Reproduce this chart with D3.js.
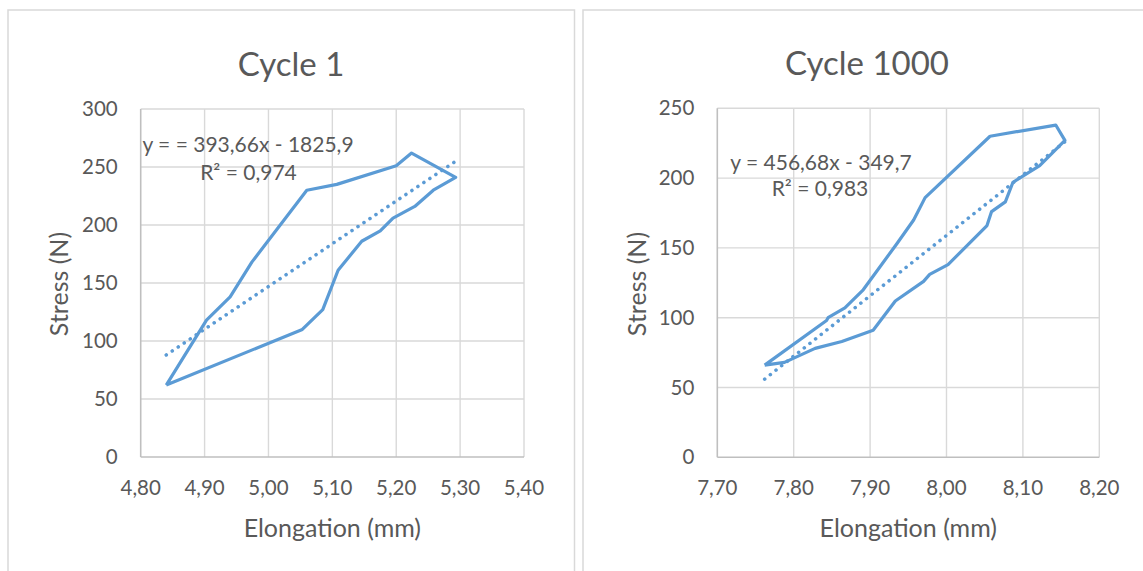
<!DOCTYPE html>
<html>
<head>
<meta charset="utf-8">
<script src="https://cdn.jsdelivr.net/npm/d3@7"></script>
<style>
  html, body { margin: 0; padding: 0; background: #ffffff; }
  svg { display: block; font-family: Lato, "Open Sans", sans-serif; }
</style>
</head>
<body>
<svg id="chart" width="1143" height="571"></svg>
<script>
// ---------- Data: Cycle 1 ----------
const cycle1Elongation = [4.840, 4.903, 4.940, 4.974, 5.060, 5.107, 5.200, 5.224, 5.293,
                          5.258, 5.229, 5.195, 5.175, 5.146, 5.109, 5.085, 5.053, 4.840];
const cycle1Stress     = [62, 118, 138, 168, 230, 235, 251, 262, 241,
                          230, 216, 206, 195, 186, 161, 127, 110, 62];
const cycle1TrendX = [4.840, 5.293];
const cycle1TrendY = [88, 255];
const cycle1XTicks = [4.80, 4.90, 5.00, 5.10, 5.20, 5.30, 5.40];
const cycle1XLabels = ["4,80", "4,90", "5,00", "5,10", "5,20", "5,30", "5,40"];
const cycle1YTicks = [0, 50, 100, 150, 200, 250, 300];
const cycle1Equation = ["y = = 393,66x - 1825,9", "R² = 0,974"];

// ---------- Data: Cycle 1000 ----------
const cycle1000Elongation = [7.762, 7.843, 7.845, 7.867, 7.891, 7.935, 7.957, 7.972, 8.057, 8.143, 8.155,
                             8.122, 8.087, 8.077, 8.059, 8.053, 8.002, 7.978, 7.970, 7.933,
                             7.904, 7.863, 7.828, 7.788, 7.762];
const cycle1000Stress     = [66, 98, 100, 107, 120, 153, 170, 186, 230, 238, 227,
                             209, 197, 183, 176, 166, 138, 131, 126, 112,
                             91, 83, 78, 68, 66];
const cycle1000TrendX = [7.762, 8.155];
const cycle1000TrendY = [56, 226];
const cycle1000XTicks = [7.70, 7.80, 7.90, 8.00, 8.10, 8.20];
const cycle1000XLabels = ["7,70", "7,80", "7,90", "8,00", "8,10", "8,20"];
const cycle1000YTicks = [0, 50, 100, 150, 200, 250];
const cycle1000Equation = ["y = 456,68x - 349,7", "R² = 0,983"];

const titles = ["Cycle 1", "Cycle 1000"];
const xAxisTitle = "Elongation (mm)";
const yAxisTitle = "Stress (N)";

// ---------- Drawing ----------
const svg = d3.select("#chart");
const TEXT = "#595959", GRID = "#d9d9d9", AXIS = "#bfbfbf", LINE = "#5b9bd5";

function drawChart(cfg) {
  const g = svg.append("g");
  // panel border
  g.append("rect").attr("x", cfg.panel[0]).attr("y", cfg.panel[1])
    .attr("width", cfg.panel[2]).attr("height", cfg.panel[3])
    .attr("fill", "#fff").attr("stroke", GRID).attr("stroke-width", 1.5);

  const x = d3.scaleLinear().domain(d3.extent(cfg.xTicks)).range([cfg.left, cfg.right]);
  const y = d3.scaleLinear().domain(d3.extent(cfg.yTicks)).range([cfg.bottom, cfg.top]);

  // gridlines
  g.append("g").selectAll("line.v").data(cfg.xTicks.slice(1)).join("line")
    .attr("x1", d => x(d)).attr("x2", d => x(d)).attr("y1", cfg.top).attr("y2", cfg.bottom)
    .attr("stroke", GRID).attr("stroke-width", 1.4);
  g.append("g").selectAll("line.h").data(cfg.yTicks.slice(1)).join("line")
    .attr("x1", cfg.left).attr("x2", cfg.right).attr("y1", d => y(d)).attr("y2", d => y(d))
    .attr("stroke", GRID).attr("stroke-width", 1.4);
  // axis lines
  g.append("line").attr("x1", cfg.left).attr("x2", cfg.right).attr("y1", cfg.bottom).attr("y2", cfg.bottom)
    .attr("stroke", AXIS).attr("stroke-width", 1.6);
  g.append("line").attr("x1", cfg.left).attr("x2", cfg.left).attr("y1", cfg.top).attr("y2", cfg.bottom)
    .attr("stroke", AXIS).attr("stroke-width", 1.6);

  // tick labels
  g.append("g").selectAll("text").data(cfg.xTicks).join("text")
    .attr("x", d => x(d)).attr("y", cfg.bottom + 31).attr("dy", "0.35em")
    .attr("text-anchor", "middle").attr("fill", TEXT).attr("font-size", 20.5)
    .text((d, i) => cfg.xLabels[i]);
  g.append("g").selectAll("text").data(cfg.yTicks).join("text")
    .attr("x", cfg.left - 23).attr("y", d => y(d)).attr("dy", "0.35em")
    .attr("text-anchor", "end").attr("fill", TEXT).attr("font-size", 20.5)
    .text(d => d);

  // titles
  g.append("text").attr("x", cfg.titleX).attr("y", cfg.titleY)
    .attr("text-anchor", "middle").attr("fill", TEXT).attr("font-size", 33).text(cfg.title);
  g.append("text").attr("x", (cfg.left + cfg.right) / 2).attr("y", 528).attr("dy", "0.35em")
    .attr("text-anchor", "middle").attr("fill", TEXT).attr("font-size", 25).text(xAxisTitle);
  g.append("text").attr("transform", `translate(${cfg.yTitleX},284) rotate(-90)`).attr("dy", "0.35em")
    .attr("text-anchor", "middle").attr("fill", TEXT).attr("font-size", 25).text(yAxisTitle);

  // series line
  const line = d3.line().x(d => x(d[0])).y(d => y(d[1]));
  g.append("path").datum(d3.zip(cfg.xs, cfg.ys)).attr("d", line)
    .attr("fill", "none").attr("stroke", LINE).attr("stroke-width", 3.2)
    .attr("stroke-linejoin", "round");
  // trendline
  g.append("path").datum(d3.zip(cfg.tx, cfg.ty)).attr("d", line)
    .attr("fill", "none").attr("stroke", LINE).attr("stroke-width", 3.6)
    .attr("stroke-linecap", "round").attr("stroke-dasharray", "0.01 7.2");

  // equation
  g.append("text").attr("x", cfg.eq[0]).attr("y", cfg.eq[1]).attr("dy", "0.35em")
    .attr("text-anchor", "middle").attr("fill", TEXT).attr("font-size", 21).text(cfg.eqText[0]);
  g.append("text").attr("x", cfg.eq[2]).attr("y", cfg.eq[3]).attr("dy", "0.35em")
    .attr("text-anchor", "middle").attr("fill", TEXT).attr("font-size", 21).text(cfg.eqText[1]);
}

drawChart({
  panel: [8, 10, 566.5, 600],
  left: 140.7, right: 524, top: 109, bottom: 457,
  xTicks: cycle1XTicks, xLabels: cycle1XLabels, yTicks: cycle1YTicks,
  xs: cycle1Elongation, ys: cycle1Stress, tx: cycle1TrendX, ty: cycle1TrendY,
  title: titles[0], titleX: 291, titleY: 76, yTitleX: 59,
  eq: [248, 145, 248.5, 173], eqText: cycle1Equation
});
drawChart({
  panel: [583, 10, 600, 600],
  left: 717.3, right: 1099.3, top: 108.3, bottom: 457.3,
  xTicks: cycle1000XTicks, xLabels: cycle1000XLabels, yTicks: cycle1000YTicks,
  xs: cycle1000Elongation, ys: cycle1000Stress, tx: cycle1000TrendX, ty: cycle1000TrendY,
  title: titles[1], titleX: 867, titleY: 75, yTitleX: 637,
  eq: [821, 163, 820, 189], eqText: cycle1000Equation
});
</script>
</body>
</html>
